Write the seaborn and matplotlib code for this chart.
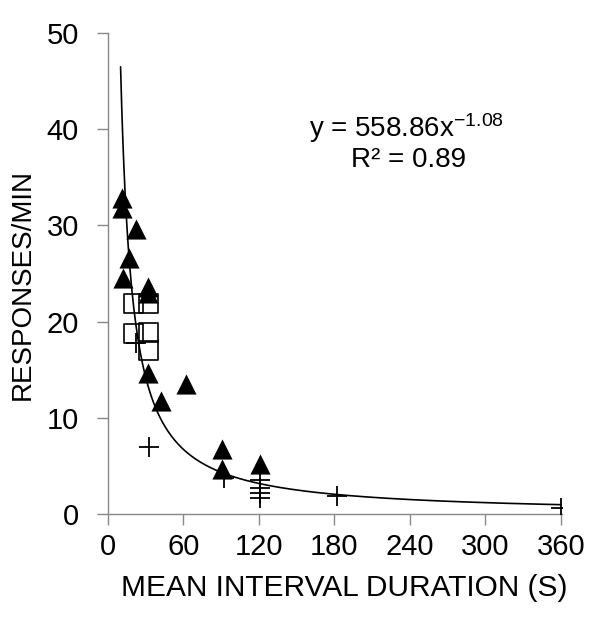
import numpy as np
import pandas as pd
import seaborn as sns
import matplotlib.pyplot as plt

# values (interval in s, responses per min)
tri_x = [11, 11, 22, 17, 12, 32, 32, 32, 42, 62, 91, 91, 121]
tri_y = [32.9, 31.8, 29.6, 26.6, 24.5, 23.6, 23.0, 14.7, 11.7, 13.5, 6.8, 4.7, 5.2]

sq_x = [20, 32.5, 20, 32.5, 32.5]
sq_y = [21.9, 21.9, 18.8, 18.9, 17.0]

plus_x = [22, 32.5, 92, 121, 121, 121, 121, 182, 360]
plus_y = [17.8, 7.0, 3.7, 3.5, 2.7, 2.2, 1.7, 1.9, 0.6]

# power trendline as printed on the chart
coef = 558.86
expo = -1.08

sns.set_style("white")
plt.rcParams["font.family"] = ["Liberation Sans", "DejaVu Sans"]
plt.rcParams["mathtext.fontset"] = "custom"
plt.rcParams["mathtext.rm"] = "Liberation Sans"
plt.rcParams["mathtext.it"] = "Liberation Sans"
plt.rcParams["text.color"] = "black"
plt.rcParams["axes.labelcolor"] = "black"
plt.rcParams["xtick.color"] = "black"
plt.rcParams["ytick.color"] = "black"

fig = plt.figure(figsize=(6.12, 6.25), dpi=100)
ax = fig.add_axes([108 / 612, 1 - 514 / 625, (562 - 108) / 612, (514 - 33) / 625])

fit_x = np.linspace(10, 360, 400)
fit = pd.DataFrame({"x": fit_x, "y": coef * fit_x ** expo})
sns.lineplot(data=fit, x="x", y="y", ax=ax, color="black", linewidth=1.2, zorder=1)

tri = pd.DataFrame({"x": tri_x, "y": tri_y})
sq = pd.DataFrame({"x": sq_x, "y": sq_y})
pl = pd.DataFrame({"x": plus_x, "y": plus_y})

sns.scatterplot(data=sq, x="x", y="y", ax=ax, marker="s", s=190,
                facecolor="none", edgecolor="black", linewidth=1.2, zorder=2)
sns.scatterplot(data=pl, x="x", y="y", ax=ax, marker="+", s=200,
                color="black", linewidth=1.3, zorder=3)
sns.scatterplot(data=tri, x="x", y="y", ax=ax, marker="^", s=210,
                color="black", edgecolor="black", linewidth=0, zorder=4)

ax.set_xlim(0, 361)
ax.set_ylim(0, 50)
ax.set_xticks(range(0, 361, 60))
ax.set_yticks(range(0, 51, 10))
ax.tick_params(axis="y", labelsize=21, length=8, width=1, color="#888888",
               labelcolor="black", direction="out", pad=13)
ax.tick_params(axis="x", labelsize=21, length=8, width=1, color="#888888",
               labelcolor="black", direction="out", pad=6)
ax.tick_params(left=True, bottom=True)

for side in ["top", "right"]:
    ax.spines[side].set_visible(False)
for side in ["left", "bottom"]:
    ax.spines[side].set_color("#888888")
    ax.spines[side].set_linewidth(1)

ax.set_xlabel("MEAN INTERVAL DURATION (S)", fontsize=21.5, va="center")
ax.set_ylabel("RESPONSES/MIN", fontsize=20, va="center")
ax.xaxis.set_label_coords(0.5 + (344 - 335) / 454, (514 - 588) / 481)
ax.yaxis.set_label_coords((23 - 108) / 454, (514 - 285) / 481)

ax.text(237, 40.1, "y = 558.86x$^{-1.08}$", fontsize=20, ha="center", va="center")
ax.text(239, 36.8, "R² = 0.89", fontsize=20, ha="center", va="center")

fig.savefig("out.png", dpi=100)
